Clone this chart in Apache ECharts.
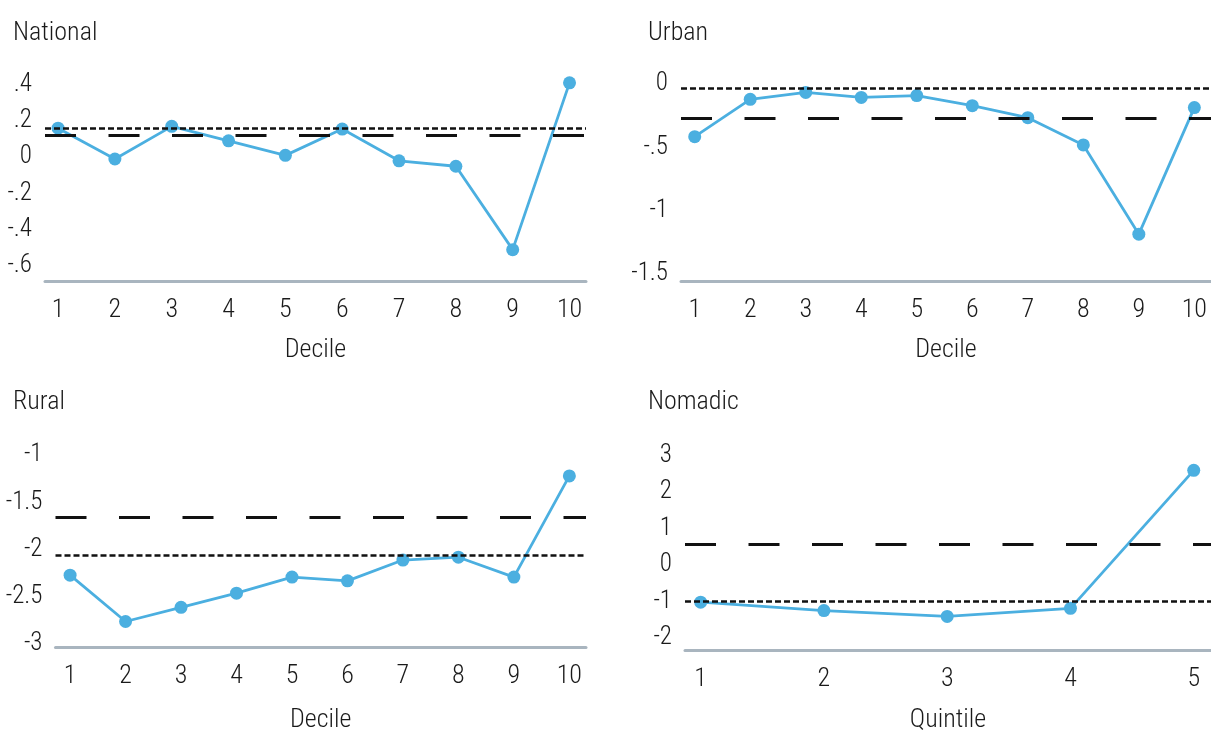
<!DOCTYPE html>
<html>
<head>
<meta charset="utf-8">
<script src="https://cdn.jsdelivr.net/npm/echarts@6/dist/echarts.min.js"></script>
<style>
  html, body { margin: 0; padding: 0; background: #ffffff; }
  #chart { width: 1211px; height: 734px; }
</style>
</head>
<body>
<div id="chart"></div>
<script>
// Group positions along the income distribution
const deciles = [1, 2, 3, 4, 5, 6, 7, 8, 9, 10];
const quintiles = [1, 2, 3, 4, 5];

// Estimates by group
const nationalValues = [0.16, -0.01, 0.17, 0.09, 0.01, 0.155, -0.02, -0.05, -0.51, 0.41];
const urbanValues = [-0.415, -0.12, -0.065, -0.105, -0.09, -0.17, -0.265, -0.48, -1.185, -0.185];
const ruralValues = [-2.27, -2.76, -2.61, -2.46, -2.29, -2.33, -2.11, -2.08, -2.29, -1.22];
const nomadicValues = [-1.02, -1.25, -1.41, -1.19, 2.59];

// Reference levels: [short-dashed, long-dashed]
const nationalRefs = [0.164, 0.117];
const urbanRefs = [-0.025, -0.265];
const ruralRefs = [-2.055, -1.66];
const nomadicRefs = [-1.0, 0.57];

// Y tick labels
const nationalTicks = [-0.6, -0.4, -0.2, 0, 0.2, 0.4];
const urbanTicks = [-1.5, -1, -0.5, 0];
const ruralTicks = [-3, -2.5, -2, -1.5, -1];
const nomadicTicks = [-2, -1, 0, 1, 2, 3];

// narrow type: condensed width of a family that has one
const FONT = '"Roboto Condensed", "Open Sans", "DejaVu Sans Condensed", sans-serif';
const STRETCH = 'condensed';
const TEXT = '#1a1a1a';
const BLUE = '#4bafe0';
const AXIS_GREY = '#a9b5bf';

function txt(size) {
  return { fontFamily: FONT, fontStyle: STRETCH, fontWeight: 300, fontSize: size, color: TEXT };
}

// Stata-style numbers: drop the leading zero (".4", "-.2")
function fmt(v) {
  const s = String(Math.round(v * 100) / 100);
  return s.replace(/^(-?)0\./, '$1.');
}

const panels = [
  { title: 'National', xName: 'Decile', cats: deciles, values: nationalValues, refs: nationalRefs, ticks: nationalTicks,
    grid: { left: 45, top: 62, width: 541, height: 219 }, x: [0.77, 10.29], y: [-0.683, 0.525], titlePos: [13, 20], nameGap: 56 },
  { title: 'Urban', xName: 'Decile', cats: deciles, values: urbanValues, refs: urbanRefs, ticks: urbanTicks,
    grid: { left: 681, top: 62, width: 541, height: 219 }, x: [0.753, 10.3], y: [-1.555, 0.175], titlePos: [648, 20], nameGap: 56 },
  { title: 'Rural', xName: 'Decile', cats: deciles, values: ruralValues, refs: ruralRefs, ticks: ruralTicks,
    grid: { left: 55.5, top: 432, width: 530.5, height: 219 }, x: [0.737, 10.3], y: [-3.03, -0.755], titlePos: [13, 389], nameGap: 60 },
  { title: 'Nomadic', xName: 'Quintile', cats: quintiles, values: nomadicValues, refs: nomadicRefs, ticks: nomadicTicks,
    grid: { left: 685, top: 432, width: 536, height: 220 }, x: [0.873, 5.14], y: [-2.33, 3.64], titlePos: [648, 389], nameGap: 57 }
];

const option = {
  backgroundColor: '#ffffff',
  animation: false,
  title: [], grid: [], xAxis: [], yAxis: [], series: []
};

panels.forEach((p, i) => {
  option.title.push({
    text: p.title, left: p.titlePos[0], top: p.titlePos[1], padding: 0,
    textStyle: txt(26)
  });
  option.grid.push(Object.assign({ containLabel: false }, p.grid));
  option.xAxis.push({
    type: 'value', gridIndex: i, min: p.x[0], max: p.x[1],
    name: p.xName, nameLocation: 'middle', nameGap: p.nameGap,
    nameTextStyle: txt(26),
    axisLine: { show: true, onZero: false, lineStyle: { color: AXIS_GREY, width: 3 } },
    axisTick: { show: false },
    splitLine: { show: false },
    axisLabel: Object.assign({ customValues: p.cats, margin: 16, formatter: v => String(v) }, txt(26))
  });
  option.yAxis.push({
    type: 'value', gridIndex: i, min: p.y[0], max: p.y[1],
    axisLine: { show: false }, axisTick: { show: false }, splitLine: { show: false },
    axisLabel: Object.assign({ customValues: p.ticks, margin: 13, formatter: fmt }, txt(25))
  });
  // reference levels
  option.series.push({
    type: 'line', xAxisIndex: i, yAxisIndex: i, data: [], z: 1, silent: true,
    markLine: {
      silent: true, symbol: ['none', 'none'], label: { show: false }, animation: false,
      data: [
        { yAxis: p.refs[0], lineStyle: { type: [6, 3], color: '#111111', width: 2.5 } },
        { yAxis: p.refs[1], lineStyle: { type: [31, 32.5], color: '#111111', width: 3 } }
      ]
    }
  });
  // estimates
  option.series.push({
    type: 'line', xAxisIndex: i, yAxisIndex: i, z: 3, clip: false,
    data: p.cats.map((c, k) => [c, p.values[k]]),
    symbol: 'circle', symbolSize: 13,
    itemStyle: { color: BLUE },
    lineStyle: { color: BLUE, width: 2.8 }
  });
});

const chart = echarts.init(document.getElementById('chart'), null, { renderer: 'canvas' });
chart.setOption(option);
</script>
</body>
</html>
